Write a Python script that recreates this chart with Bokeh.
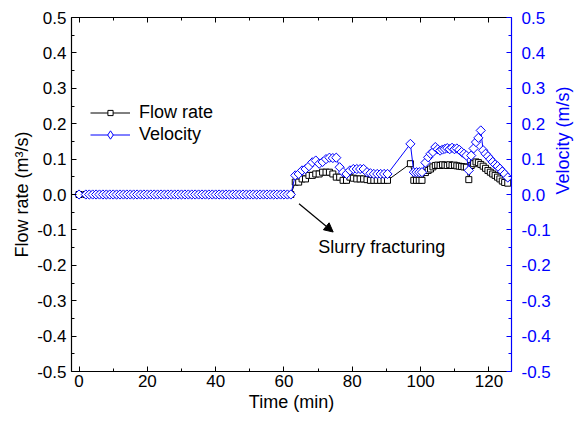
from bokeh.plotting import figure
from bokeh.models import (Range1d, LinearAxis, SingleIntervalTicker, PrintfTickFormatter,
                          Legend, LegendItem, Arrow, NormalHead, Label, CustomJSTickFormatter)
from bokeh.embed import file_html
from bokeh.resources import INLINE
import math

# ---------------- data ----------------
time_min = [0, 2, 3, 4, 5, 6, 7, 8, 9, 10, 11, 12, 13, 14, 15, 16, 17, 18, 19, 20,
            21, 22, 23, 24, 25, 26, 27, 28, 29, 30, 31, 32, 33, 34, 35, 36, 37, 38, 39, 40,
            41, 42, 43, 44, 45, 46, 47, 48, 49, 50, 51, 52, 53, 54, 55, 56, 57, 58, 59, 60,
            61, 62,
            63.3, 64.3, 65.3, 66.3, 67.3, 68.3, 69.3, 70.3, 71.3, 72.3, 73.3, 74.3, 75.3, 76.3,
            77.3, 78.3, 79.3, 80.3, 81.3, 82.3, 83.3, 84.3, 85.3, 86.3, 87.3, 88.3, 89.3, 90.3,
            97.0, 98.0, 98.8, 99.6, 100.4,
            101.4, 102.2, 102.9, 103.6, 104.3, 105.0, 105.7, 106.4, 107.1, 107.8, 108.5, 109.2,
            109.9, 110.6, 111.3, 112.0, 112.7, 113.4, 114.1, 114.8, 115.5, 116.2, 116.9, 117.6,
            118.3, 119.0, 119.7, 120.4, 121.1, 121.8, 122.5, 123.2, 123.9, 124.6, 125.5]

flow_rate = [0.0, 0.0, 0.0, 0.0, 0.0, 0.0, 0.0, 0.0, 0.0, 0.0, 0.0, 0.0, 0.0, 0.0, 0.0, 0.0, 0.0, 0.0, 0.0, 0.0,
             0.0, 0.0, 0.0, 0.0, 0.0, 0.0, 0.0, 0.0, 0.0, 0.0, 0.0, 0.0, 0.0, 0.0, 0.0, 0.0, 0.0, 0.0, 0.0, 0.0,
             0.0, 0.0, 0.0, 0.0, 0.0, 0.0, 0.0, 0.0, 0.0, 0.0, 0.0, 0.0, 0.0, 0.0, 0.0, 0.0, 0.0, 0.0, 0.0, 0.0,
             0.0, 0.0,
             0.035, 0.035, 0.044, 0.044, 0.054, 0.054, 0.058, 0.058, 0.063, 0.063, 0.063, 0.058, 0.049, 0.049,
             0.040, 0.040, 0.049, 0.046, 0.044, 0.044, 0.044, 0.042, 0.040, 0.040, 0.040, 0.040, 0.040, 0.040,
             0.087, 0.040, 0.040, 0.040, 0.040,
             0.062, 0.068, 0.072, 0.078, 0.082, 0.083, 0.082, 0.084, 0.083, 0.082, 0.084, 0.082,
             0.083, 0.081, 0.080, 0.079, 0.078, 0.077, 0.042, 0.082, 0.087, 0.092, 0.090, 0.085,
             0.080, 0.074, 0.068, 0.063, 0.058, 0.054, 0.049, 0.044, 0.038, 0.034, 0.032]

velocity = [0.0, 0.0, 0.0, 0.0, 0.0, 0.0, 0.0, 0.0, 0.0, 0.0, 0.0, 0.0, 0.0, 0.0, 0.0, 0.0, 0.0, 0.0, 0.0, 0.0,
            0.0, 0.0, 0.0, 0.0, 0.0, 0.0, 0.0, 0.0, 0.0, 0.0, 0.0, 0.0, 0.0, 0.0, 0.0, 0.0, 0.0, 0.0, 0.0, 0.0,
            0.0, 0.0, 0.0, 0.0, 0.0, 0.0, 0.0, 0.0, 0.0, 0.0, 0.0, 0.0, 0.0, 0.0, 0.0, 0.0, 0.0, 0.0, 0.0, 0.0,
            0.0, 0.0,
            0.054, 0.058, 0.068, 0.072, 0.080, 0.091, 0.096, 0.087, 0.092, 0.100, 0.104, 0.103, 0.104, 0.077,
            0.063, 0.058, 0.068, 0.072, 0.072, 0.072, 0.072, 0.063, 0.060, 0.058, 0.058, 0.058, 0.058, 0.058,
            0.143, 0.063, 0.063, 0.063, 0.063,
            0.090, 0.105, 0.115, 0.120, 0.134, 0.128, 0.124, 0.127, 0.129, 0.131, 0.128, 0.132,
            0.128, 0.130, 0.126, 0.120, 0.115, 0.110, 0.068, 0.110, 0.130, 0.148, 0.160, 0.181,
            0.125, 0.115, 0.108, 0.100, 0.092, 0.085, 0.080, 0.073, 0.065, 0.058, 0.048]

x_ticks_interval = 20
y_ticks_interval = 0.1
annotation_text = "Slurry fracturing"

FONT = "Liberation Sans"
BLUE = "#0000FF"
TICK_FS = "17px"
TITLE_FS = "18px"

p = figure(width=585, height=423, output_backend="svg", toolbar_location=None,
           x_range=Range1d(-2.2, 126.6), y_range=Range1d(-0.5, 0.5),
           min_border_left=71, min_border_right=67, min_border_top=17, min_border_bottom=52,
           x_axis_location=None, y_axis_location=None)
p.background_fill_color = "white"
p.border_fill_color = "white"
p.outline_line_color = None
p.grid.visible = False
p.extra_y_ranges = {"vel": Range1d(-0.5, 0.5)}


def style_axis(ax, color):
    ax.axis_line_color = color
    ax.axis_line_width = 1.2
    ax.major_tick_line_color = color
    ax.minor_tick_line_color = color
    ax.major_tick_in = 5
    ax.major_tick_out = 0
    ax.minor_tick_in = 3
    ax.minor_tick_out = 0
    ax.major_label_text_color = color
    ax.major_label_text_font = FONT
    ax.major_label_text_font_size = TICK_FS
    ax.axis_label_text_font = FONT
    ax.axis_label_text_font_size = TITLE_FS
    ax.axis_label_text_font_style = "normal"
    ax.axis_label_text_color = color


xb = LinearAxis(ticker=SingleIntervalTicker(interval=x_ticks_interval, num_minor_ticks=2),
                axis_label="Time (min)")
style_axis(xb, "black")
xb.major_label_standoff = 3
xb.axis_label_standoff = 2
p.add_layout(xb, "below")

xt = LinearAxis(ticker=SingleIntervalTicker(interval=x_ticks_interval, num_minor_ticks=2),
                formatter=CustomJSTickFormatter(code="return ''"))
style_axis(xt, "black")
xt.major_label_text_font_size = "1px"
xt.major_label_standoff = 0
p.add_layout(xt, "above")

yl = LinearAxis(ticker=SingleIntervalTicker(interval=y_ticks_interval, num_minor_ticks=2),
                formatter=PrintfTickFormatter(format="%.1f"),
                axis_label="Flow rate (m³/s)")
style_axis(yl, "black")
yl.major_label_standoff = 5
yl.axis_label_standoff = 2
p.add_layout(yl, "left")

yr = LinearAxis(y_range_name="vel",
                ticker=SingleIntervalTicker(interval=y_ticks_interval, num_minor_ticks=2),
                formatter=PrintfTickFormatter(format="%.1f"),
                axis_label="Velocity (m/s)")
style_axis(yr, BLUE)
yr.major_label_standoff = 10
yr.axis_label_standoff = 9
yr.axis_label_orientation = math.pi / 2
p.add_layout(yr, "right")

# series
fl = p.line(time_min, flow_rate, line_color="black", line_width=1)
fs = p.scatter(time_min, flow_rate, marker="square", size=6, line_color="black",
               fill_color="white", line_width=1)
vl = p.line(time_min, velocity, line_color=BLUE, line_width=1, y_range_name="vel")
vs = p.scatter(time_min, velocity, marker="square", angle=math.pi / 4, size=6.5,
               line_color=BLUE, fill_color="white", line_width=1, y_range_name="vel")
# legend-only diamond sample (no data points)
v_key = p.scatter([float("nan")], [float("nan")], marker="diamond", size=9,
                  line_color=BLUE, fill_color="white", line_width=1, y_range_name="vel")


def make_legend(items, loc, gh):
    lg = Legend(items=items, location=loc, orientation="vertical")
    lg.border_line_color = None
    lg.background_fill_alpha = 0
    lg.padding = 0
    lg.margin = 0
    lg.spacing = 0
    lg.glyph_width = 40
    lg.glyph_height = gh
    lg.label_height = gh
    lg.label_standoff = 9
    lg.label_text_font = FONT
    lg.label_text_font_size = "18px"
    lg.label_text_color = "black"
    lg.label_text_baseline = "middle"
    return lg


leg1 = make_legend([LegendItem(label="Flow rate", renderers=[fl, fs])], (19, 248), 13)
leg2 = make_legend([LegendItem(label="Velocity", renderers=[vl, v_key])], (19, 226), 21)
p.add_layout(leg1, "center")
p.add_layout(leg2, "center")

# annotation
p.add_layout(Arrow(end=NormalHead(size=9, fill_color="black", line_color="black", line_width=1),
                   x_start=64.4, y_start=-0.026, x_end=74.4, y_end=-0.106,
                   line_color="black", line_width=1.2))
p.add_layout(Label(x=70.0, y=-0.147, text=annotation_text, text_font=FONT,
                   text_font_size="18px", text_baseline="middle", text_align="left",
                   text_color="black"))

open("out.html", "w").write(file_html(p, INLINE))
